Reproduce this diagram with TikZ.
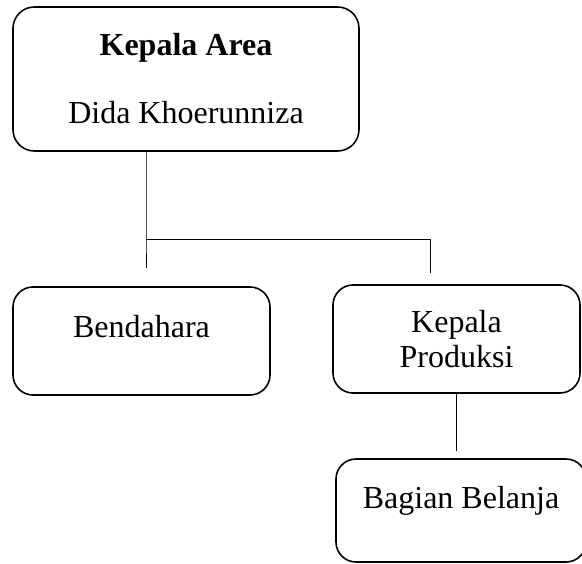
\documentclass[tikz,border=0pt]{standalone}
\usepackage{fontspec}
\setmainfont{Liberation Serif}
\usepackage{tikz}

\begin{document}
\begin{tikzpicture}[x=0.75pt, y=-0.75pt,
  orgbox/.style={draw, line width=1.2pt, rounded corners=15pt, align=center,
    inner sep=0pt, font=\fontsize{24}{26.25}\selectfont},
  link/.style={line width=0.6pt}]
  % Fix the page size
  \useasboundingbox (0,0) rectangle (582,564);

  % Draw the boxes
  \node[orgbox, rounded corners=16pt, minimum width=259.5pt, minimum height=108pt] (area) at (186,79)
    {\textbf{Kepala Area}\\[24.75pt] Dida Khoerunniza};
  \node[orgbox, minimum width=192.75pt, text height=37.5pt, text depth=43.5pt] (bendahara) at (141.5,341) {Bendahara};
  \node[orgbox, minimum width=185.25pt, minimum height=81pt] (produksi) at (456.5,339) {Kepala\\Produksi};
  \node[orgbox, minimum width=187.5pt, text height=36.75pt, text depth=40.5pt] (belanja) at (461,510.5) {Bagian Belanja};

  % Loose ends of the connectors
  \coordinate (split) at (146,239);
  \coordinate (leftend) at (146,268);
  \coordinate (rightend) at (430,273);
  \coordinate (belanjatop) at (456,451);

  % Draw the connectors
  \draw[link] (area.south -| split) -- (split) -- (leftend);
  \draw[link] (split) -- (split -| rightend) -- (rightend);
  \draw[link] (produksi.south -| belanjatop) -- (belanjatop);
\end{tikzpicture}
\end{document}
